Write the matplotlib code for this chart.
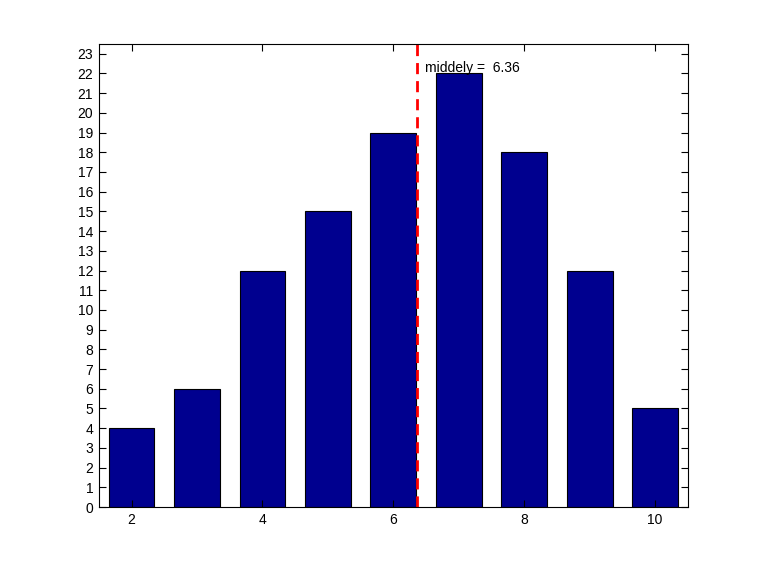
import matplotlib
matplotlib.use("Agg")
import matplotlib.pyplot as plt

# data
centers = [2, 3, 4, 5, 6, 7, 8, 9, 10]
counts = [4, 6, 12, 15, 19, 22, 18, 12, 5]
middely = 6.36
xticks = [2, 4, 6, 8, 10]
yticks = list(range(0, 24))

plt.rcParams["font.family"] = ["Liberation Sans", "DejaVu Sans"]

fig = plt.figure(figsize=(7.6, 5.7), dpi=100)
ax = fig.add_axes([0.130, 0.1105, 0.775, 0.8125])

ax.bar(centers, counts, width=0.7, color="#00008f", edgecolor="black", linewidth=0.8)
ax.axvline(middely, color="red", linestyle="--", linewidth=2, dashes=(4, 2.5))
ax.text(middely + 0.12, 22.05, "middely =  %.2f" % middely, fontsize=10, va="baseline", ha="left")

ax.set_xlim(1.5, 10.5)
ax.set_ylim(0, 23.5)
ax.set_xticks(xticks)
ax.set_yticks(yticks)
ax.tick_params(direction="in", top=True, right=True, labelsize=10, length=5, width=0.8, pad=4)
for s in ax.spines.values():
    s.set_linewidth(0.8)

fig.savefig("out.png", dpi=100)
